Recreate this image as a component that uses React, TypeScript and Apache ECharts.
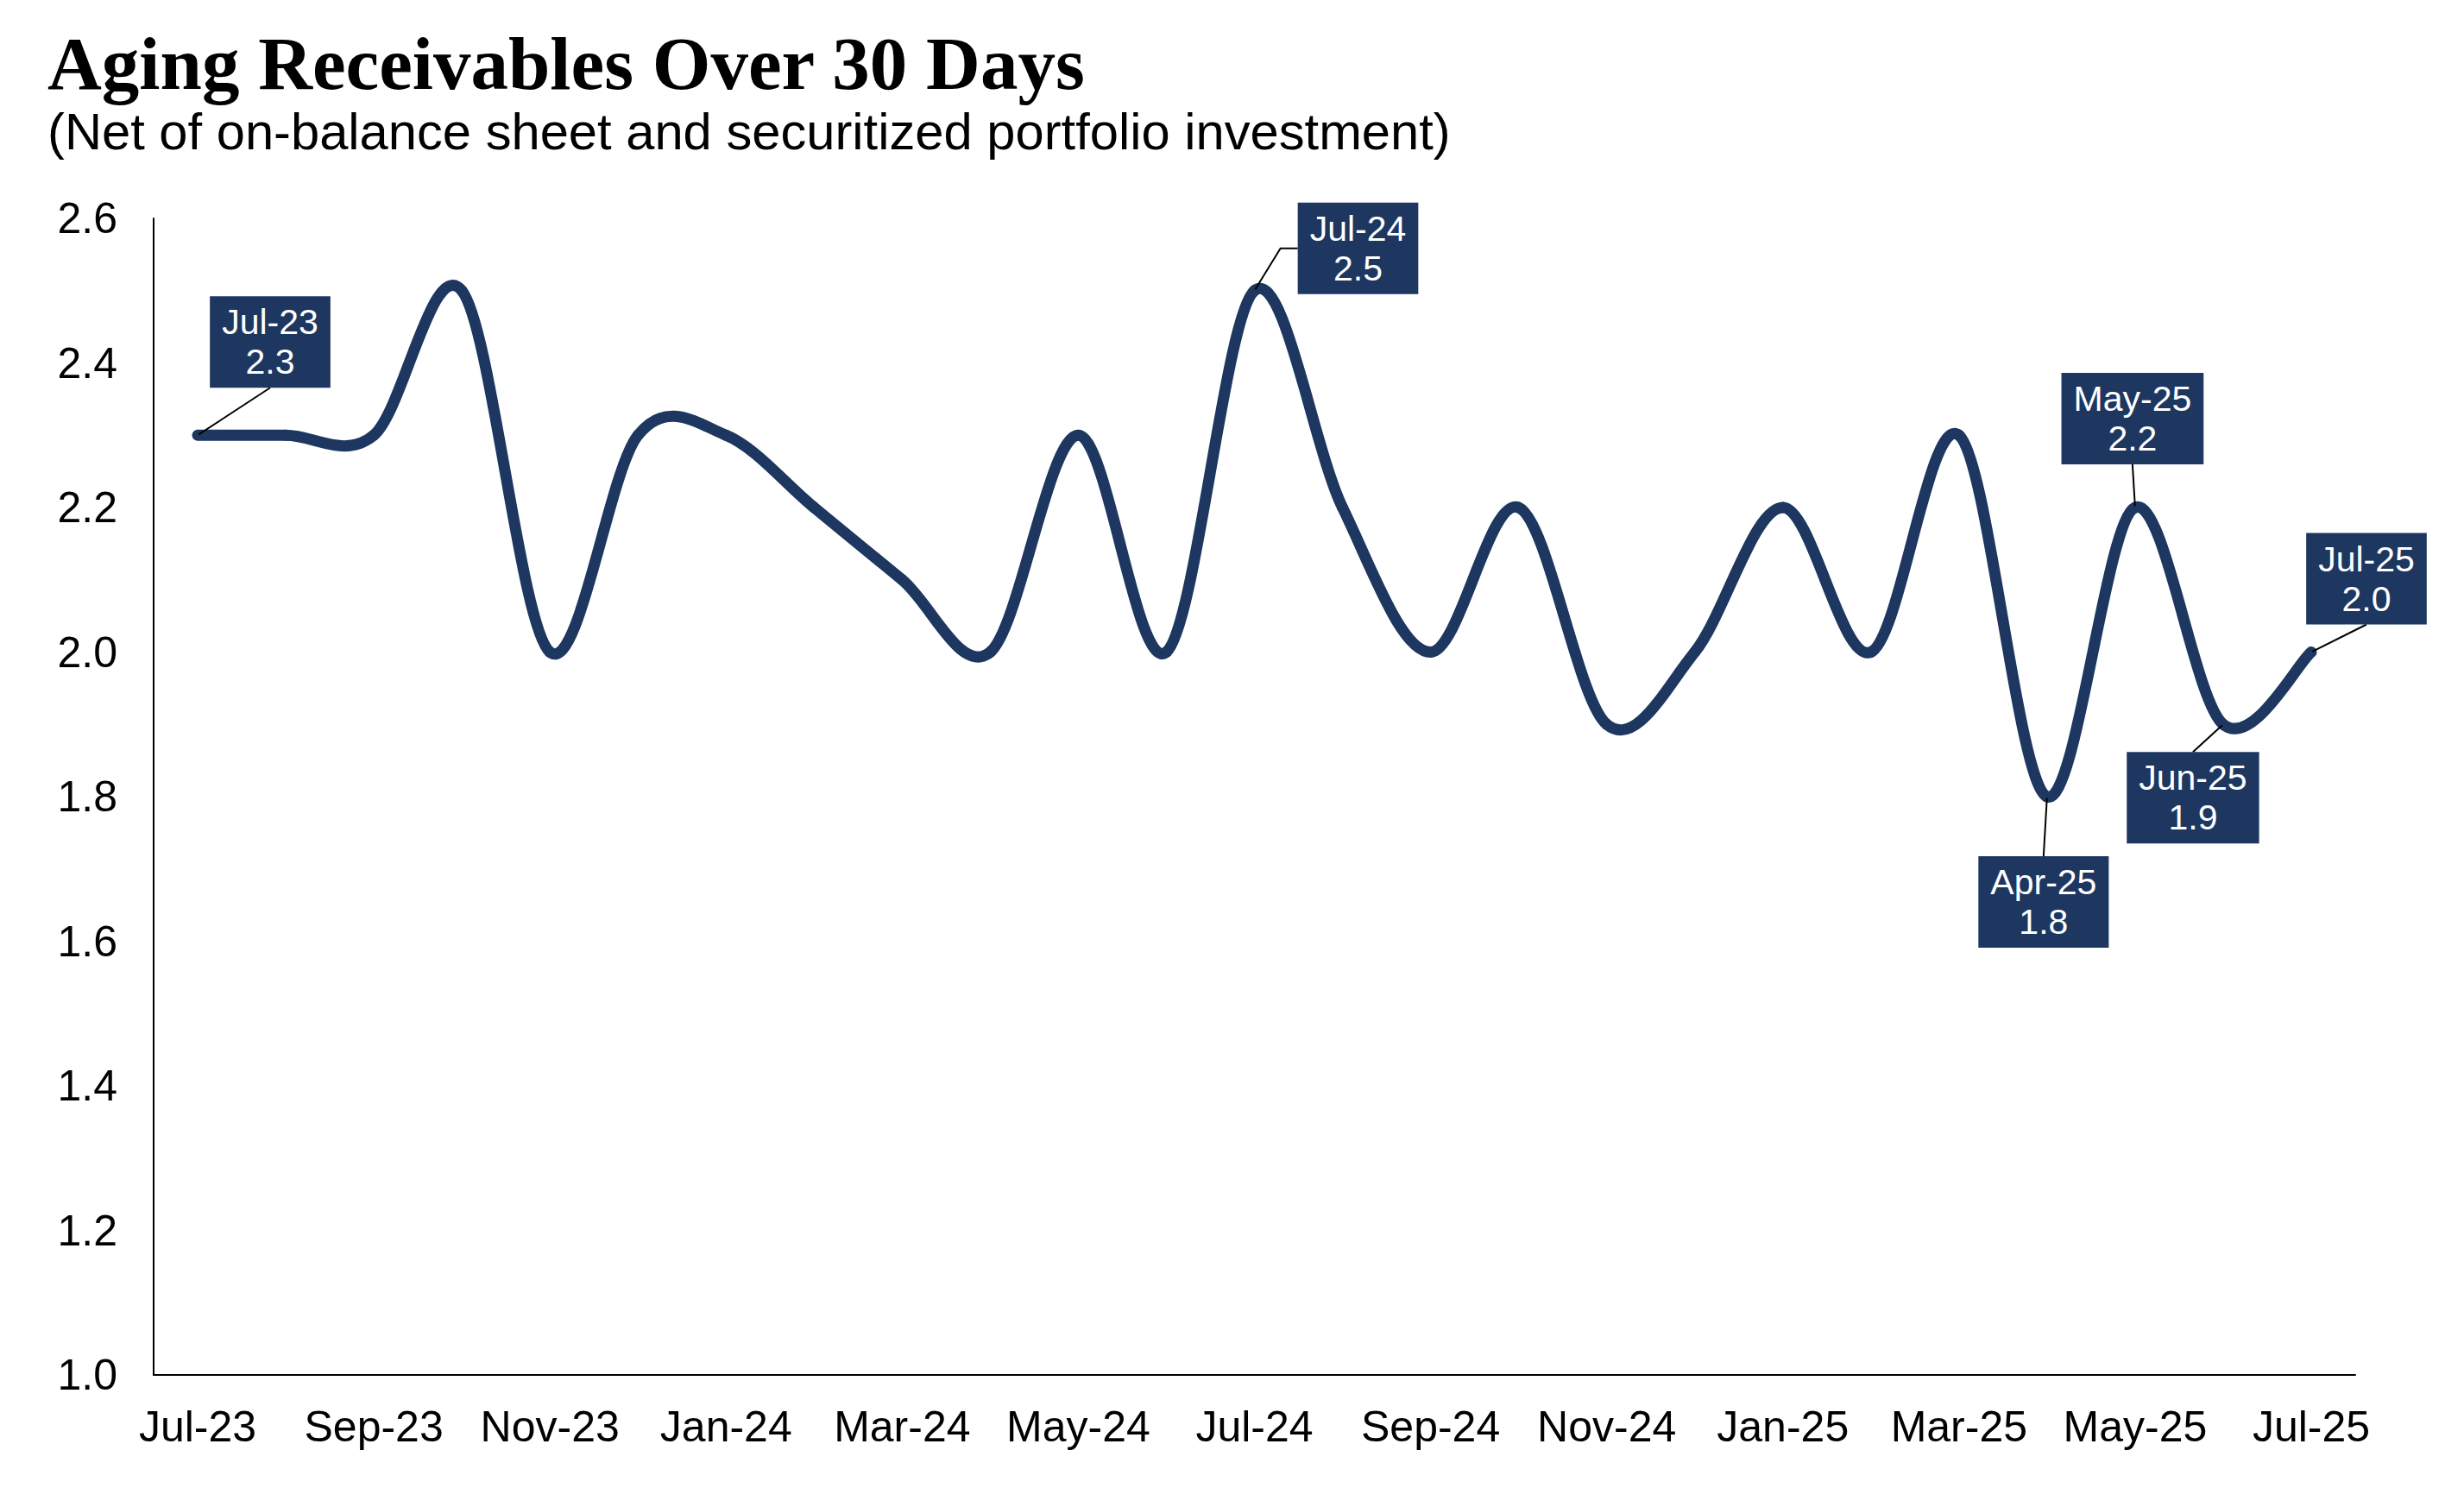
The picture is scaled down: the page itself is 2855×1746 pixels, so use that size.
import React, { useEffect, useRef } from "react";
import * as echarts from "echarts";

// ---- Data ----
const MONTHS: string[] = [
  "Jul-23", "Aug-23", "Sep-23", "Oct-23", "Nov-23", "Dec-23",
  "Jan-24", "Feb-24", "Mar-24", "Apr-24", "May-24", "Jun-24",
  "Jul-24", "Aug-24", "Sep-24", "Oct-24", "Nov-24", "Dec-24",
  "Jan-25", "Feb-25", "Mar-25", "Apr-25", "May-25", "Jun-25", "Jul-25",
];

const AGING_OVER_30: number[] = [
  2.3, 2.3, 2.3, 2.5, 2.0, 2.3,
  2.3, 2.2, 2.1, 2.0, 2.3, 2.0,
  2.5, 2.2, 2.0, 2.2, 1.9, 2.0,
  2.2, 2.0, 2.3, 1.8, 2.2, 1.9, 2.0,
];

const CALLOUT_MONTHS: string[] = ["Jul-23", "Jul-24", "Apr-25", "May-25", "Jun-25", "Jul-25"];

const Y_MIN = 1.0;
const Y_MAX = 2.6;
const Y_STEP = 0.2;

const TITLE = "Aging Receivables Over 30 Days";
const SUBTITLE = "(Net of on-balance sheet and securitized portfolio investment)";

// ---- Styling ----
const NAVY = "#1D3760";
const SANS = "'Liberation Sans', Arial, Helvetica, sans-serif";
const SERIF = "'Liberation Serif', 'Times New Roman', serif";
const LINE_WIDTH = 13;
const SMOOTH_TENSION = 1 / 6; // spreadsheet-style cardinal smoothing

// callout box placement relative to its point: [dx, dy, guide elbow length]
const CALLOUT_PLACEMENT: Record<string, [number, number, number]> = {
  "Jul-23": [84, -108, 0],
  "Jul-24": [120, -49, 20],
  "Apr-25": [-4, 122, 0],
  "May-25": [-3, -103, 0],
  "Jun-25": [-35, 85, 0],
  "Jul-25": [64, -85, 0],
};

export default function App() {
  const ref = useRef<HTMLDivElement>(null);

  useEffect(() => {
    if (!ref.current) return;
    const chart = echarts.init(ref.current, undefined, { renderer: "svg" });

    const labelData = AGING_OVER_30.map((v, i) => {
      const m = MONTHS[i];
      if (CALLOUT_MONTHS.indexOf(m) >= 0) {
        const p = CALLOUT_PLACEMENT[m];
        return {
          value: v,
          label: {
            show: true,
            position: "inside",
            formatter: (params: any) => `${params.name}\n${Number(params.value).toFixed(1)}`,
            backgroundColor: NAVY,
            color: "#FFFFFF",
            fontFamily: SANS,
            fontSize: 41,
            lineHeight: 46,
            padding: [8, 14, 6, 14],
            align: "center",
          },
          labelLine: {
            show: true,
            length2: p[2],
            lineStyle: { color: "#000000", width: 2 },
          },
        };
      }
      return { value: v };
    });

    const curveData = AGING_OVER_30.map((v, i) => [i, v]);

    const option: any = {
      animation: false,
      backgroundColor: "#FFFFFF",
      title: [
        {
          text: TITLE,
          left: 55,
          top: 30,
          padding: 0,
          textStyle: {
            fontFamily: SERIF,
            fontWeight: "bold",
            fontSize: 87,
            color: "#000000",
          },
        },
        {
          text: SUBTITLE,
          left: 55,
          top: 122,
          padding: 0,
          textStyle: {
            fontFamily: SANS,
            fontWeight: "normal",
            fontSize: 59.7,
            color: "#000000",
          },
        },
      ],
      grid: {
        left: 178,
        right: 126,
        top: 253,
        bottom: 153,
        containLabel: false,
        outerBoundsMode: "none",
      },
      xAxis: {
        type: "category",
        data: MONTHS,
        boundaryGap: true,
        axisLine: { show: true, onZero: false, lineStyle: { color: "#000000", width: 2 } },
        axisTick: { show: false },
        axisLabel: {
          interval: 1,
          margin: 35,
          fontFamily: SANS,
          fontSize: 50,
          color: "#000000",
        },
        splitLine: { show: false },
      },
      yAxis: {
        type: "value",
        min: Y_MIN,
        max: Y_MAX,
        interval: Y_STEP,
        axisLine: { show: true, lineStyle: { color: "#000000", width: 2 } },
        axisTick: { show: false },
        axisLabel: {
          margin: 42,
          fontFamily: SANS,
          fontSize: 50,
          color: "#000000",
          formatter: (v: number) => v.toFixed(1),
        },
        splitLine: { show: false },
      },
      series: [
        {
          // smoothed curve: one cubic segment per month, through the axis scales
          type: "custom",
          coordinateSystem: "cartesian2d",
          data: curveData,
          encode: { x: 0, y: 1 },
          silent: true,
          z: 2,
          renderItem: (params: any, api: any) => {
            const i = params.dataIndexInside;
            const n = params.dataInsideLength;
            if (i >= n - 1) return null;
            const pt = (k: number) => {
              const kk = Math.max(0, Math.min(n - 1, k));
              return api.coord([api.value(0, kk), api.value(1, kk)]);
            };
            const p0 = pt(i - 1);
            const p1 = pt(i);
            const p2 = pt(i + 1);
            const p3 = pt(i + 2);
            const t = SMOOTH_TENSION;
            return {
              type: "bezierCurve",
              shape: {
                x1: p1[0],
                y1: p1[1],
                x2: p2[0],
                y2: p2[1],
                cpx1: p1[0] + (p2[0] - p0[0]) * t,
                cpy1: p1[1] + (p2[1] - p0[1]) * t,
                cpx2: p2[0] - (p3[0] - p1[0]) * t,
                cpy2: p2[1] - (p3[1] - p1[1]) * t,
              },
              style: {
                stroke: NAVY,
                lineWidth: LINE_WIDTH,
                lineCap: "round",
                lineJoin: "round",
                fill: "none",
              },
            };
          },
        },
        {
          // carries the callout labels for the highlighted months
          type: "line",
          data: labelData,
          showSymbol: true,
          showAllSymbol: true,
          symbol: "circle",
          symbolSize: 3,
          itemStyle: { color: NAVY },
          lineStyle: { color: NAVY, width: 0, opacity: 0 },
          label: { show: false },
          labelLayout: (params: any) => {
            const m = MONTHS[params.dataIndex];
            const p = CALLOUT_PLACEMENT[m];
            if (!p) return {};
            return { dx: p[0], dy: p[1] };
          },
          emphasis: { disabled: true },
          silent: true,
          z: 3,
        },
      ],
    };

    chart.setOption(option);
    return () => {
      chart.dispose();
    };
  }, []);

  return (
    <div
      ref={ref}
      style={{
        position: "absolute",
        left: 0,
        top: 0,
        width: "2855px",
        height: "1746px",
        background: "#FFFFFF",
      }}
    />
  );
}
